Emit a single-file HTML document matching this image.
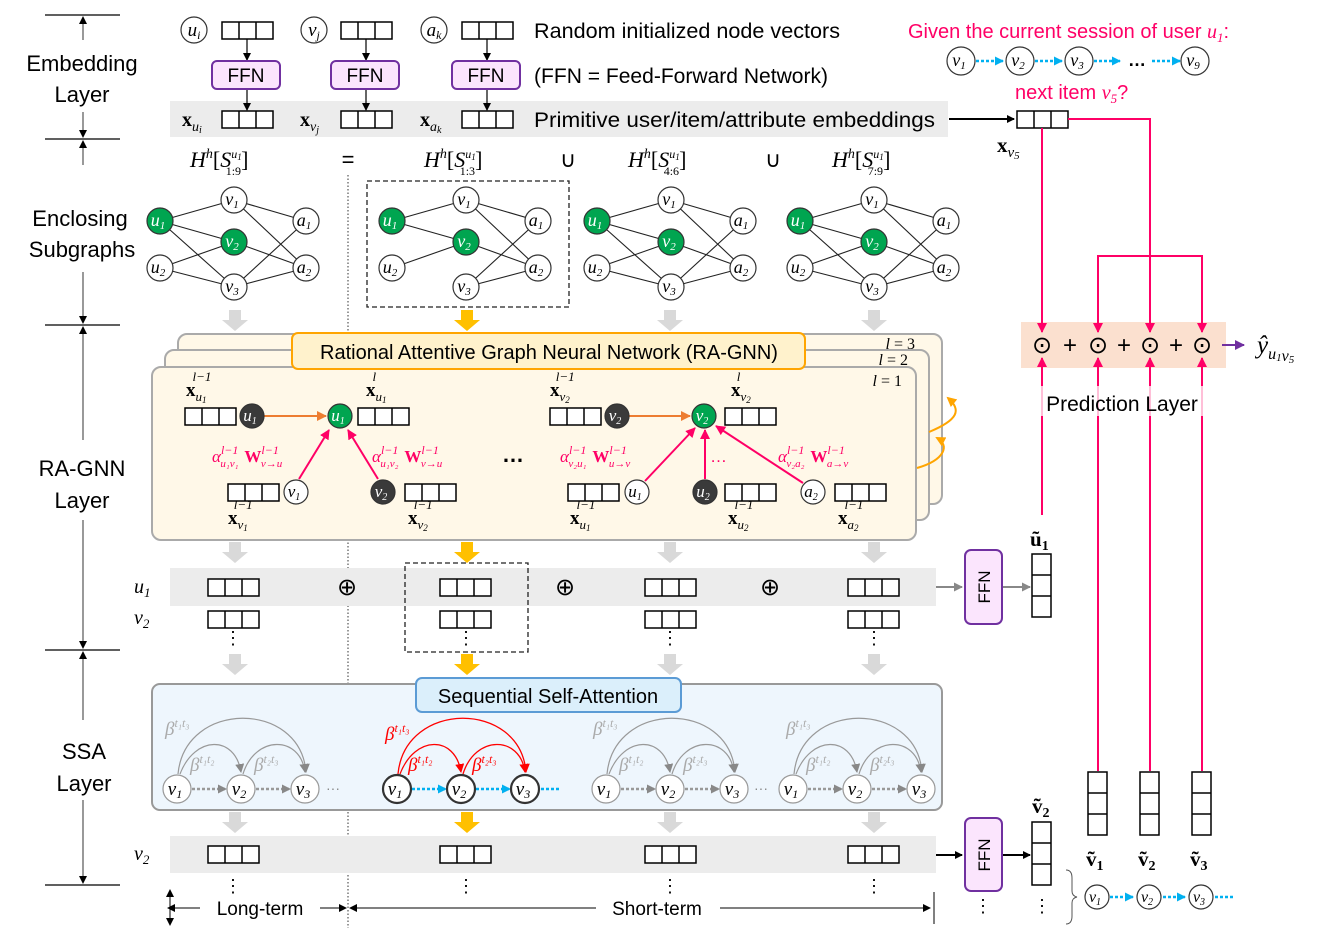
<!DOCTYPE html>
<html><head><meta charset="utf-8"><style>
html,body{margin:0;padding:0;background:#fff}
svg{display:block}
text{font-family:"Liberation Sans",sans-serif}
.m{font-family:"Liberation Serif",serif;font-style:italic}
.b{font-family:"Liberation Serif",serif;font-weight:bold}
</style></head><body>
<svg width="1342" height="937" viewBox="0 0 1342 937" xmlns="http://www.w3.org/2000/svg">
<defs>
<marker id="ak" markerWidth="8" markerHeight="8" refX="7" refY="4" orient="auto" markerUnits="userSpaceOnUse"><path d="M0,0L8,4L0,8z" fill="#000"/></marker>
<marker id="ap" markerWidth="10" markerHeight="10" refX="9" refY="5" orient="auto" markerUnits="userSpaceOnUse"><path d="M0,0L10,5L0,10z" fill="#ff0066"/></marker>
<marker id="ao" markerWidth="10" markerHeight="10" refX="9" refY="5" orient="auto" markerUnits="userSpaceOnUse"><path d="M0,0L10,5L0,10z" fill="#ed7d31"/></marker>
<marker id="ag" markerWidth="9" markerHeight="9" refX="8" refY="4.5" orient="auto" markerUnits="userSpaceOnUse"><path d="M0,0L9,4.5L0,9z" fill="#888"/></marker>
<marker id="ar" markerWidth="9" markerHeight="9" refX="8" refY="4.5" orient="auto" markerUnits="userSpaceOnUse"><path d="M0,0L9,4.5L0,9z" fill="#f00"/></marker>
<marker id="ac" markerWidth="9" markerHeight="9" refX="8" refY="4.5" orient="auto" markerUnits="userSpaceOnUse"><path d="M0,0L9,4.5L0,9z" fill="#00b0f0"/></marker>
<marker id="ay" markerWidth="10" markerHeight="10" refX="8" refY="5" orient="auto" markerUnits="userSpaceOnUse"><path d="M0,0L10,5L0,10z" fill="#ffa500"/></marker>
<marker id="av" markerWidth="10" markerHeight="10" refX="9" refY="5" orient="auto" markerUnits="userSpaceOnUse"><path d="M0,0L10,5L0,10z" fill="#7030a0"/></marker>
<g id="bx"><rect x="0" y="0" width="51" height="17" fill="#fff" stroke="#000" stroke-width="1.5"/><line x1="17" y1="0" x2="17" y2="17" stroke="#000" stroke-width="1.5"/><line x1="34" y1="0" x2="34" y2="17" stroke="#000" stroke-width="1.5"/></g>
<g id="vb"><rect x="0" y="0" width="19" height="63" fill="#fff" stroke="#000" stroke-width="1.5"/><line x1="0" y1="21" x2="19" y2="21" stroke="#000" stroke-width="1.5"/><line x1="0" y1="42" x2="19" y2="42" stroke="#000" stroke-width="1.5"/></g>
<path id="gd" d="M-6,0h12v10h7l-13,11l-13,-11h7z"/>
<g id="edges" stroke="#222" stroke-width="1.1">
<line x1="0" y1="0" x2="74" y2="-21"/><line x1="0" y1="0" x2="74" y2="21"/><line x1="0" y1="0" x2="74" y2="66"/>
<line x1="0" y1="47" x2="74" y2="21"/><line x1="0" y1="47" x2="74" y2="66"/>
<line x1="74" y1="-21" x2="146" y2="0"/><line x1="74" y1="-21" x2="146" y2="47"/><line x1="74" y1="21" x2="146" y2="47"/><line x1="74" y1="66" x2="146" y2="0"/><line x1="74" y1="66" x2="146" y2="47"/>
</g>
</defs>

<!-- left axis -->
<g stroke="#000" stroke-width="1.3">
<line x1="45" y1="15" x2="120" y2="15"/><line x1="45" y1="139" x2="120" y2="139"/><line x1="45" y1="325" x2="120" y2="325"/><line x1="45" y1="650" x2="120" y2="650"/><line x1="45" y1="885" x2="120" y2="885"/>
</g>
<g stroke="#000" stroke-width="0.8" fill="none">
<line x1="83" y1="40" x2="83" y2="17" marker-end="url(#ak)"/><line x1="83" y1="112" x2="83" y2="137" marker-end="url(#ak)"/>
<line x1="83" y1="165" x2="83" y2="141" marker-end="url(#ak)"/><line x1="83" y1="272" x2="83" y2="323" marker-end="url(#ak)"/>
<line x1="83" y1="440" x2="83" y2="327" marker-end="url(#ak)"/><line x1="83" y1="520" x2="83" y2="648" marker-end="url(#ak)"/>
<line x1="83" y1="720" x2="83" y2="652" marker-end="url(#ak)"/><line x1="83" y1="800" x2="83" y2="883" marker-end="url(#ak)"/>
</g>
<g font-size="22" text-anchor="middle" fill="#000">
<text x="82" y="71">Embedding</text><text x="82" y="102">Layer</text>
<text x="80" y="226">Enclosing</text><text x="82" y="257">Subgraphs</text>
<text x="82" y="476">RA-GNN</text><text x="82" y="508">Layer</text>
<text x="84" y="759">SSA</text><text x="84" y="791">Layer</text>
</g>

<!-- embedding layer -->
<rect x="170" y="101" width="778" height="36" fill="#ececec"/>
<g fill="#fff" stroke="#333" stroke-width="1.2"><circle cx="194" cy="30" r="13"/><circle cx="314" cy="30" r="13"/><circle cx="434" cy="30" r="13"/></g>
<g font-size="19" class="m" text-anchor="middle"><text x="194" y="36" class="m">u<tspan font-size="12" dy="3">i</tspan></text><text x="314" y="36" class="m">v<tspan font-size="12" dy="3">j</tspan></text><text x="434" y="36" class="m">a<tspan font-size="12" dy="3">k</tspan></text></g>
<use href="#bx" x="222" y="22"/><use href="#bx" x="341" y="22"/><use href="#bx" x="462" y="22"/>
<use href="#bx" x="222" y="111"/><use href="#bx" x="341" y="111"/><use href="#bx" x="462" y="111"/>
<g stroke="#000" stroke-width="1.2"><line x1="247" y1="39" x2="247" y2="60" marker-end="url(#ak)"/><line x1="366" y1="39" x2="366" y2="60" marker-end="url(#ak)"/><line x1="487" y1="39" x2="487" y2="60" marker-end="url(#ak)"/>
<line x1="247" y1="89" x2="247" y2="110" marker-end="url(#ak)"/><line x1="366" y1="89" x2="366" y2="110" marker-end="url(#ak)"/><line x1="487" y1="89" x2="487" y2="110" marker-end="url(#ak)"/></g>
<g fill="#fbe5fd" stroke="#7030a0" stroke-width="2"><rect x="212" y="61" width="68" height="28" rx="5"/><rect x="331" y="61" width="68" height="28" rx="5"/><rect x="452" y="61" width="68" height="28" rx="5"/></g>
<g font-size="19" text-anchor="middle"><text x="246" y="82">FFN</text><text x="365" y="82">FFN</text><text x="486" y="82">FFN</text></g>
<g font-size="20"><text x="182" y="126" class="b">x<tspan class="m" font-weight="normal" font-size="14" dy="5">u<tspan font-size="10" dy="2">i</tspan></tspan></text>
<text x="300" y="126" class="b">x<tspan class="m" font-weight="normal" font-size="14" dy="5">v<tspan font-size="10" dy="2">j</tspan></tspan></text>
<text x="420" y="126" class="b">x<tspan class="m" font-weight="normal" font-size="14" dy="5">a<tspan font-size="10" dy="2">k</tspan></tspan></text></g>
<g font-size="21"><text x="534" y="38" textLength="306" lengthAdjust="spacingAndGlyphs">Random initialized node vectors</text><text x="534" y="83" textLength="294" lengthAdjust="spacingAndGlyphs">(FFN = Feed-Forward Network)</text><text x="534" y="127" textLength="401" lengthAdjust="spacingAndGlyphs">Primitive user/item/attribute embeddings</text></g>

<!-- H^h row -->
<g font-size="22" class="m">
<text x="190" y="167" class="m">H<tspan font-size="14" dy="-9">h</tspan><tspan dy="9" font-style="normal">[</tspan>S<tspan font-size="12" dy="-9">u<tspan font-size="9" dy="2">1</tspan></tspan><tspan font-size="12" dx="-16" dy="15" font-style="normal">1:9</tspan><tspan dy="-8" font-style="normal">]</tspan></text>
<text x="424" y="167" class="m">H<tspan font-size="14" dy="-9">h</tspan><tspan dy="9" font-style="normal">[</tspan>S<tspan font-size="12" dy="-9">u<tspan font-size="9" dy="2">1</tspan></tspan><tspan font-size="12" dx="-16" dy="15" font-style="normal">1:3</tspan><tspan dy="-8" font-style="normal">]</tspan></text>
<text x="628" y="167" class="m">H<tspan font-size="14" dy="-9">h</tspan><tspan dy="9" font-style="normal">[</tspan>S<tspan font-size="12" dy="-9">u<tspan font-size="9" dy="2">1</tspan></tspan><tspan font-size="12" dx="-16" dy="15" font-style="normal">4:6</tspan><tspan dy="-8" font-style="normal">]</tspan></text>
<text x="832" y="167" class="m">H<tspan font-size="14" dy="-9">h</tspan><tspan dy="9" font-style="normal">[</tspan>S<tspan font-size="12" dy="-9">u<tspan font-size="9" dy="2">1</tspan></tspan><tspan font-size="12" dx="-16" dy="15" font-style="normal">7:9</tspan><tspan dy="-8" font-style="normal">]</tspan></text>
</g>
<g font-size="22" text-anchor="middle"><text x="348" y="167">=</text><text x="568" y="167">∪</text><text x="773" y="167">∪</text></g>

<!-- dotted vertical separator -->
<line x1="348" y1="175" x2="348" y2="928" stroke="#333" stroke-width="1" stroke-dasharray="1.5,2"/>

<!-- subgraphs -->
<rect x="367" y="181" width="202" height="126" fill="none" stroke="#222" stroke-width="1.3" stroke-dasharray="5,3"/>
<g transform="translate(160,221)"><use href="#edges"/></g>
<g transform="translate(392,221)">
<g stroke="#222" stroke-width="1.1"><line x1="0" y1="0" x2="74" y2="-21"/><line x1="0" y1="0" x2="74" y2="21"/><line x1="0" y1="47" x2="74" y2="21"/><line x1="74" y1="-21" x2="146" y2="0"/><line x1="74" y1="-21" x2="146" y2="47"/><line x1="74" y1="21" x2="146" y2="47"/><line x1="74" y1="66" x2="146" y2="0"/><line x1="74" y1="66" x2="146" y2="47"/></g></g>
<g transform="translate(597,221)"><use href="#edges"/></g>
<g transform="translate(800,221)"><use href="#edges"/></g>
<g stroke="#333" stroke-width="1.2">
<g fill="#00a550"><circle cx="160" cy="221" r="13"/><circle cx="234" cy="242" r="13"/><circle cx="392" cy="221" r="13"/><circle cx="466" cy="242" r="13"/><circle cx="597" cy="221" r="13"/><circle cx="671" cy="242" r="13"/><circle cx="800" cy="221" r="13"/><circle cx="874" cy="242" r="13"/></g>
<g fill="#fff"><circle cx="160" cy="268" r="13"/><circle cx="234" cy="200" r="13"/><circle cx="234" cy="287" r="13"/><circle cx="306" cy="221" r="13"/><circle cx="306" cy="268" r="13"/>
<circle cx="392" cy="268" r="13"/><circle cx="466" cy="200" r="13"/><circle cx="466" cy="287" r="13"/><circle cx="538" cy="221" r="13"/><circle cx="538" cy="268" r="13"/>
<circle cx="597" cy="268" r="13"/><circle cx="671" cy="200" r="13"/><circle cx="671" cy="287" r="13"/><circle cx="743" cy="221" r="13"/><circle cx="743" cy="268" r="13"/>
<circle cx="800" cy="268" r="13"/><circle cx="874" cy="200" r="13"/><circle cx="874" cy="287" r="13"/><circle cx="946" cy="221" r="13"/><circle cx="946" cy="268" r="13"/></g></g>
<g class="m" font-size="18" text-anchor="middle">
<g fill="#fff"><text x="158" y="226" class="m">u<tspan font-size="11" dy="3">1</tspan></text><text x="232" y="247" class="m">v<tspan font-size="11" dy="3">2</tspan></text><text x="390" y="226" class="m">u<tspan font-size="11" dy="3">1</tspan></text><text x="464" y="247" class="m">v<tspan font-size="11" dy="3">2</tspan></text><text x="595" y="226" class="m">u<tspan font-size="11" dy="3">1</tspan></text><text x="669" y="247" class="m">v<tspan font-size="11" dy="3">2</tspan></text><text x="798" y="226" class="m">u<tspan font-size="11" dy="3">1</tspan></text><text x="872" y="247" class="m">v<tspan font-size="11" dy="3">2</tspan></text></g>
<text x="158" y="273" class="m">u<tspan font-size="11" dy="3">2</tspan></text><text x="232" y="205" class="m">v<tspan font-size="11" dy="3">1</tspan></text><text x="232" y="292" class="m">v<tspan font-size="11" dy="3">3</tspan></text><text x="304" y="226" class="m">a<tspan font-size="11" dy="3">1</tspan></text><text x="304" y="273" class="m">a<tspan font-size="11" dy="3">2</tspan></text>
<text x="390" y="273" class="m">u<tspan font-size="11" dy="3">2</tspan></text><text x="464" y="205" class="m">v<tspan font-size="11" dy="3">1</tspan></text><text x="464" y="292" class="m">v<tspan font-size="11" dy="3">3</tspan></text><text x="536" y="226" class="m">a<tspan font-size="11" dy="3">1</tspan></text><text x="536" y="273" class="m">a<tspan font-size="11" dy="3">2</tspan></text>
<text x="595" y="273" class="m">u<tspan font-size="11" dy="3">2</tspan></text><text x="669" y="205" class="m">v<tspan font-size="11" dy="3">1</tspan></text><text x="669" y="292" class="m">v<tspan font-size="11" dy="3">3</tspan></text><text x="741" y="226" class="m">a<tspan font-size="11" dy="3">1</tspan></text><text x="741" y="273" class="m">a<tspan font-size="11" dy="3">2</tspan></text>
<text x="798" y="273" class="m">u<tspan font-size="11" dy="3">2</tspan></text><text x="872" y="205" class="m">v<tspan font-size="11" dy="3">1</tspan></text><text x="872" y="292" class="m">v<tspan font-size="11" dy="3">3</tspan></text><text x="944" y="226" class="m">a<tspan font-size="11" dy="3">1</tspan></text><text x="944" y="273" class="m">a<tspan font-size="11" dy="3">2</tspan></text>
</g>

<!-- block arrows -->
<g fill="#d9d9d9">
<use href="#gd" x="235" y="310"/><use href="#gd" x="670" y="310"/><use href="#gd" x="874" y="310"/>
<use href="#gd" x="235" y="542"/><use href="#gd" x="670" y="542"/><use href="#gd" x="874" y="542"/>
<use href="#gd" x="235" y="654"/><use href="#gd" x="670" y="654"/><use href="#gd" x="874" y="654"/>
<use href="#gd" x="235" y="812"/><use href="#gd" x="670" y="812"/><use href="#gd" x="874" y="812"/>
</g>
<g fill="#ffc000"><use href="#gd" x="467" y="310"/><use href="#gd" x="467" y="542"/><use href="#gd" x="467" y="654"/><use href="#gd" x="467" y="812"/></g>

<!-- RA-GNN stacked panels -->
<rect x="178" y="334" width="764" height="170" rx="9" fill="#fff8e8" stroke="#aaa" stroke-width="2"/>
<rect x="165" y="350" width="764" height="170" rx="9" fill="#fff8e8" stroke="#aaa" stroke-width="2"/>
<rect x="152" y="367" width="764" height="173" rx="9" fill="#fff8e8" stroke="#aaa" stroke-width="2"/>
<rect x="292" y="333" width="513" height="36" rx="6" fill="#fff2cc" stroke="#ffa500" stroke-width="2"/>
<text x="549" y="359" font-size="20" text-anchor="middle">Rational Attentive Graph Neural Network (RA-GNN)</text>
<g class="m" font-size="16" text-anchor="end"><text x="915" y="349" class="m">l <tspan font-style="normal">= 3</tspan></text><text x="908" y="365" class="m">l <tspan font-style="normal">= 2</tspan></text><text x="902" y="386" class="m">l <tspan font-style="normal">= 1</tspan></text></g>
<g fill="none" stroke="#ffa500" stroke-width="2"><path d="M917,468 C945,460 950,445 937,438" marker-end="url(#ay)"/><path d="M929,432 C958,420 962,410 948,398" marker-end="url(#ay)"/></g>

<!-- RA-GNN inner content -->
<use href="#bx" x="185" y="408"/><use href="#bx" x="358" y="408"/><use href="#bx" x="228" y="484"/><use href="#bx" x="405" y="484"/>
<use href="#bx" x="550" y="408"/><use href="#bx" x="725" y="408"/><use href="#bx" x="568" y="484"/><use href="#bx" x="725" y="484"/><use href="#bx" x="835" y="484"/>
<g stroke-width="2" fill="none">
<line x1="264" y1="416" x2="326" y2="416" stroke="#ed7d31" marker-end="url(#ao)"/>
<line x1="629" y1="416" x2="690" y2="416" stroke="#ed7d31" marker-end="url(#ao)"/>
<g stroke="#ff0066"><line x1="299" y1="479" x2="329" y2="430" marker-end="url(#ap)"/><line x1="378" y1="479" x2="348" y2="430" marker-end="url(#ap)"/>
<line x1="645" y1="481" x2="695" y2="428" marker-end="url(#ap)"/><line x1="705" y1="479" x2="705" y2="430" marker-end="url(#ap)"/><line x1="803" y1="483" x2="716" y2="426" marker-end="url(#ap)"/></g>
</g>
<g stroke="#333" stroke-width="1.2">
<g fill="#3a3a3a"><circle cx="252" cy="416" r="12"/><circle cx="383" cy="492" r="12"/><circle cx="617" cy="416" r="12"/><circle cx="705" cy="492" r="12"/></g>
<g fill="#00a550"><circle cx="340" cy="416" r="12"/><circle cx="704" cy="416" r="12"/></g>
<g fill="#fff"><circle cx="296" cy="492" r="12"/><circle cx="637" cy="492" r="12"/><circle cx="813" cy="492" r="12"/></g></g>
<g class="m" font-size="17" text-anchor="middle">
<g fill="#fff"><text x="250" y="421" class="m">u<tspan font-size="10" dy="3">1</tspan></text><text x="338" y="421" class="m">u<tspan font-size="10" dy="3">1</tspan></text><text x="381" y="497" class="m">v<tspan font-size="10" dy="3">2</tspan></text><text x="615" y="421" class="m">v<tspan font-size="10" dy="3">2</tspan></text><text x="702" y="421" class="m">v<tspan font-size="10" dy="3">2</tspan></text><text x="703" y="497" class="m">u<tspan font-size="10" dy="3">2</tspan></text></g>
<text x="294" y="497" class="m">v<tspan font-size="10" dy="3">1</tspan></text><text x="635" y="497" class="m">u<tspan font-size="10" dy="3">1</tspan></text><text x="811" y="497" class="m">a<tspan font-size="10" dy="3">2</tspan></text>
</g>
<g font-size="19">
<text x="186" y="396" class="b">x<tspan class="m" font-weight="normal" font-size="13" dy="5">u<tspan font-size="9" dy="2">1</tspan></tspan><tspan class="m" font-weight="normal" font-size="13" dx="-14" dy="-22">l−1</tspan></text>
<text x="366" y="396" class="b">x<tspan class="m" font-weight="normal" font-size="13" dy="5">u<tspan font-size="9" dy="2">1</tspan></tspan><tspan class="m" font-weight="normal" font-size="13" dx="-14" dy="-22">l</tspan></text>
<text x="550" y="396" class="b">x<tspan class="m" font-weight="normal" font-size="13" dy="5">v<tspan font-size="9" dy="2">2</tspan></tspan><tspan class="m" font-weight="normal" font-size="13" dx="-14" dy="-22">l−1</tspan></text>
<text x="731" y="396" class="b">x<tspan class="m" font-weight="normal" font-size="13" dy="5">v<tspan font-size="9" dy="2">2</tspan></tspan><tspan class="m" font-weight="normal" font-size="13" dx="-14" dy="-22">l</tspan></text>
<text x="228" y="524" class="b">x<tspan class="m" font-weight="normal" font-size="13" dy="5">v<tspan font-size="9" dy="2">1</tspan></tspan><tspan class="m" font-weight="normal" font-size="13" dx="-14" dy="-22">l−1</tspan></text>
<text x="408" y="524" class="b">x<tspan class="m" font-weight="normal" font-size="13" dy="5">v<tspan font-size="9" dy="2">2</tspan></tspan><tspan class="m" font-weight="normal" font-size="13" dx="-14" dy="-22">l−1</tspan></text>
<text x="570" y="524" class="b">x<tspan class="m" font-weight="normal" font-size="13" dy="5">u<tspan font-size="9" dy="2">1</tspan></tspan><tspan class="m" font-weight="normal" font-size="13" dx="-14" dy="-22">l−1</tspan></text>
<text x="728" y="524" class="b">x<tspan class="m" font-weight="normal" font-size="13" dy="5">u<tspan font-size="9" dy="2">2</tspan></tspan><tspan class="m" font-weight="normal" font-size="13" dx="-14" dy="-22">l−1</tspan></text>
<text x="838" y="524" class="b">x<tspan class="m" font-weight="normal" font-size="13" dy="5">a<tspan font-size="9" dy="2">2</tspan></tspan><tspan class="m" font-weight="normal" font-size="13" dx="-14" dy="-22">l−1</tspan></text>
</g>
<g fill="#ff0066" font-size="17">
<text x="212" y="462" class="m">α<tspan font-size="12" dy="-8">l−1</tspan><tspan font-size="11" dx="-18" dy="13">u₁v₁</tspan><tspan class="b" font-style="normal" font-size="17" dx="6" dy="-5">W</tspan><tspan font-size="12" dy="-8">l−1</tspan><tspan font-size="11" dx="-18" dy="13">v→u</tspan></text>
<text x="372" y="462" class="m">α<tspan font-size="12" dy="-8">l−1</tspan><tspan font-size="11" dx="-18" dy="13">u₁v₂</tspan><tspan class="b" font-style="normal" font-size="17" dx="6" dy="-5">W</tspan><tspan font-size="12" dy="-8">l−1</tspan><tspan font-size="11" dx="-18" dy="13">v→u</tspan></text>
<text x="560" y="462" class="m">α<tspan font-size="12" dy="-8">l−1</tspan><tspan font-size="11" dx="-18" dy="13">v₂u₁</tspan><tspan class="b" font-style="normal" font-size="17" dx="6" dy="-5">W</tspan><tspan font-size="12" dy="-8">l−1</tspan><tspan font-size="11" dx="-18" dy="13">u→v</tspan></text>
<text x="778" y="462" class="m">α<tspan font-size="12" dy="-8">l−1</tspan><tspan font-size="11" dx="-18" dy="13">v₂a₂</tspan><tspan class="b" font-style="normal" font-size="17" dx="6" dy="-5">W</tspan><tspan font-size="12" dy="-8">l−1</tspan><tspan font-size="11" dx="-18" dy="13">a→v</tspan></text>
<text x="710" y="462">…</text>
</g>
<text x="513" y="462" font-size="22" font-weight="bold" text-anchor="middle">…</text>

<!-- aggregation rows -->
<rect x="170" y="568" width="766" height="38" fill="#ececec"/>
<rect x="405" y="563" width="123" height="89" fill="none" stroke="#222" stroke-width="1.3" stroke-dasharray="5,3"/>
<use href="#bx" x="208" y="579"/><use href="#bx" x="440" y="579"/><use href="#bx" x="645" y="579"/><use href="#bx" x="848" y="579"/>
<use href="#bx" x="208" y="611"/><use href="#bx" x="440" y="611"/><use href="#bx" x="645" y="611"/><use href="#bx" x="848" y="611"/>
<g font-size="18" text-anchor="middle"><text x="233" y="644">⋮</text><text x="466" y="644">⋮</text><text x="670" y="644">⋮</text><text x="874" y="644">⋮</text>
<text x="233" y="892">⋮</text><text x="466" y="892">⋮</text><text x="670" y="892">⋮</text><text x="874" y="892">⋮</text>
<text x="983" y="912">⋮</text><text x="1042" y="912">⋮</text></g>
<g font-size="24" text-anchor="middle"><text x="347" y="595">⊕</text><text x="565" y="595">⊕</text><text x="770" y="595">⊕</text>
<text x="347" y="862">⊕</text><text x="565" y="862">⊕</text><text x="770" y="862">⊕</text></g>
<g class="m" font-size="20"><text x="134" y="593" class="m">u<tspan font-size="13" dy="4">1</tspan></text><text x="134" y="624" class="m">v<tspan font-size="13" dy="4">2</tspan></text><text x="134" y="860" class="m">v<tspan font-size="13" dy="4">2</tspan></text></g>

<!-- SSA panel -->
<rect x="152" y="684" width="790" height="126" rx="8" fill="#eef6fd" stroke="#999" stroke-width="2"/>
<rect x="416" y="678" width="265" height="34" rx="6" fill="#dbeffb" stroke="#5b9bd5" stroke-width="2"/>
<text x="548" y="703" font-size="20" text-anchor="middle">Sequential Self-Attention</text>
<g fill="none" stroke="#999" stroke-width="1.2">
<path d="M178,774 C185,700 300,700 306,772" marker-end="url(#ag)"/><path d="M180,774 C195,735 235,735 241,772" marker-end="url(#ag)"/><path d="M243,774 C255,735 300,735 305,772" marker-end="url(#ag)"/>
<path d="M607,774 C614,700 729,700 735,772" marker-end="url(#ag)"/><path d="M609,774 C624,735 664,735 670,772" marker-end="url(#ag)"/><path d="M672,774 C684,735 729,735 734,772" marker-end="url(#ag)"/>
<path d="M794,774 C801,700 916,700 922,772" marker-end="url(#ag)"/><path d="M796,774 C811,735 851,735 857,772" marker-end="url(#ag)"/><path d="M859,774 C871,735 916,735 921,772" marker-end="url(#ag)"/>
<g stroke-dasharray="3,2" stroke-width="2.5"><line x1="192" y1="789" x2="226" y2="789" marker-end="url(#ag)"/><line x1="256" y1="789" x2="290" y2="789" marker-end="url(#ag)"/><line x1="621" y1="789" x2="655" y2="789" marker-end="url(#ag)"/><line x1="685" y1="789" x2="719" y2="789" marker-end="url(#ag)"/><line x1="808" y1="789" x2="842" y2="789" marker-end="url(#ag)"/><line x1="872" y1="789" x2="906" y2="789" marker-end="url(#ag)"/></g>
</g>
<g fill="none" stroke="#f00" stroke-width="1.3">
<path d="M398,774 C405,700 520,700 526,772" marker-end="url(#ar)"/><path d="M400,774 C415,735 455,735 461,772" marker-end="url(#ar)"/><path d="M463,774 C475,735 520,735 525,772" marker-end="url(#ar)"/></g>
<g stroke="#00b0f0" stroke-width="2.5" stroke-dasharray="3,2" fill="none"><line x1="412" y1="789" x2="446" y2="789" marker-end="url(#ac)"/><line x1="476" y1="789" x2="510" y2="789" marker-end="url(#ac)"/><line x1="541" y1="789" x2="560" y2="789"/></g>
<g fill="#fff" stroke="#999" stroke-width="1.2"><circle cx="177" cy="789" r="14"/><circle cx="241" cy="789" r="14"/><circle cx="305" cy="789" r="14"/><circle cx="606" cy="789" r="14"/><circle cx="670" cy="789" r="14"/><circle cx="734" cy="789" r="14"/><circle cx="793" cy="789" r="14"/><circle cx="857" cy="789" r="14"/><circle cx="921" cy="789" r="14"/></g>
<g fill="#fff" stroke="#333" stroke-width="2.2"><circle cx="397" cy="789" r="14"/><circle cx="461" cy="789" r="14"/><circle cx="525" cy="789" r="14"/></g>
<g class="m" font-size="19" text-anchor="middle">
<text x="175" y="795" class="m">v<tspan font-size="12" dy="3">1</tspan></text><text x="239" y="795" class="m">v<tspan font-size="12" dy="3">2</tspan></text><text x="303" y="795" class="m">v<tspan font-size="12" dy="3">3</tspan></text>
<text x="395" y="795" class="m">v<tspan font-size="12" dy="3">1</tspan></text><text x="459" y="795" class="m">v<tspan font-size="12" dy="3">2</tspan></text><text x="523" y="795" class="m">v<tspan font-size="12" dy="3">3</tspan></text>
<text x="604" y="795" class="m">v<tspan font-size="12" dy="3">1</tspan></text><text x="668" y="795" class="m">v<tspan font-size="12" dy="3">2</tspan></text><text x="732" y="795" class="m">v<tspan font-size="12" dy="3">3</tspan></text>
<text x="791" y="795" class="m">v<tspan font-size="12" dy="3">1</tspan></text><text x="855" y="795" class="m">v<tspan font-size="12" dy="3">2</tspan></text><text x="919" y="795" class="m">v<tspan font-size="12" dy="3">3</tspan></text>
</g>
<g font-size="14" fill="#888"><text x="326" y="793">···</text><text x="754" y="793">···</text></g>
<g class="m" font-size="19" fill="#aaa">
<text x="165" y="735" class="m">β<tspan font-size="12" dy="-8">t₁t₃</tspan></text><text x="190" y="771" class="m">β<tspan font-size="12" dy="-8">t₁t₂</tspan></text><text x="254" y="771" class="m">β<tspan font-size="12" dy="-8">t₂t₃</tspan></text>
<text x="593" y="735" class="m">β<tspan font-size="12" dy="-8">t₁t₃</tspan></text><text x="619" y="771" class="m">β<tspan font-size="12" dy="-8">t₁t₂</tspan></text><text x="683" y="771" class="m">β<tspan font-size="12" dy="-8">t₂t₃</tspan></text>
<text x="786" y="735" class="m">β<tspan font-size="12" dy="-8">t₁t₃</tspan></text><text x="806" y="771" class="m">β<tspan font-size="12" dy="-8">t₁t₂</tspan></text><text x="870" y="771" class="m">β<tspan font-size="12" dy="-8">t₂t₃</tspan></text>
</g>
<g class="m" font-size="19" fill="#f00">
<text x="385" y="740" class="m">β<tspan font-size="12" dy="-8">t₁t₃</tspan></text><text x="408" y="771" class="m">β<tspan font-size="12" dy="-8">t₁t₂</tspan></text><text x="472" y="771" class="m">β<tspan font-size="12" dy="-8">t₂t₃</tspan></text>
</g>

<!-- bottom band -->
<rect x="170" y="836" width="766" height="37" fill="#ececec"/>
<use href="#bx" x="208" y="846"/><use href="#bx" x="440" y="846"/><use href="#bx" x="645" y="846"/><use href="#bx" x="848" y="846"/>

<!-- long/short term -->
<g stroke="#000" stroke-width="1" fill="none">
<line x1="170" y1="890" x2="170" y2="925" marker-end="url(#ak)"/><line x1="170" y1="925" x2="170" y2="890" marker-end="url(#ak)"/>
<line x1="200" y1="908" x2="168" y2="908" marker-end="url(#ak)"/><line x1="320" y1="908" x2="346" y2="908" marker-end="url(#ak)"/>
<line x1="600" y1="908" x2="350" y2="908" marker-end="url(#ak)"/><line x1="720" y1="908" x2="930" y2="908" marker-end="url(#ak)"/>
<line x1="934" y1="892" x2="934" y2="924"/>
</g>
<rect x="202" y="898" width="116" height="20" fill="#fff"/><rect x="596" y="898" width="122" height="20" fill="#fff"/>
<g font-size="19" text-anchor="middle"><text x="260" y="915">Long-term</text><text x="657" y="915">Short-term</text></g>

<!-- FFN right -->
<g fill="#fbe5fd" stroke="#7030a0" stroke-width="2"><rect x="965" y="550" width="37" height="74" rx="6"/><rect x="965" y="818" width="37" height="73" rx="6"/></g>
<g font-size="17" text-anchor="middle"><text transform="translate(990,587) rotate(-90)">FFN</text><text transform="translate(990,855) rotate(-90)">FFN</text></g>
<g stroke="#888" stroke-width="2"><line x1="936" y1="587" x2="962" y2="587" marker-end="url(#ag)"/><line x1="1003" y1="587" x2="1030" y2="587" marker-end="url(#ag)"/></g>
<g stroke="#000" stroke-width="2"><line x1="936" y1="855" x2="962" y2="855" marker-end="url(#ak)"/><line x1="1003" y1="855" x2="1030" y2="855" marker-end="url(#ak)"/></g>
<use href="#vb" x="1032" y="554"/><use href="#vb" x="1032" y="822"/>
<use href="#vb" x="1088" y="772"/><use href="#vb" x="1140" y="772"/><use href="#vb" x="1192" y="772"/>
<g class="b" font-size="21"><text x="1030" y="546" class="b">ũ<tspan font-size="14" dy="4">1</tspan></text><text x="1032" y="813" class="b">ṽ<tspan font-size="14" dy="4">2</tspan></text>
<text x="1086" y="866" class="b">ṽ<tspan font-size="14" dy="4">1</tspan></text><text x="1138" y="866" class="b">ṽ<tspan font-size="14" dy="4">2</tspan></text><text x="1190" y="866" class="b">ṽ<tspan font-size="14" dy="4">3</tspan></text></g>
<path d="M1066,870 q6,0 6,8 v13 q0,5 5,6 q-5,1 -5,6 v13 q0,8 -6,8" fill="none" stroke="#555" stroke-width="1"/>
<g stroke="#00b0f0" stroke-width="2.5" stroke-dasharray="3,2"><line x1="1110" y1="897" x2="1133" y2="897" marker-end="url(#ac)"/><line x1="1163" y1="897" x2="1185" y2="897" marker-end="url(#ac)"/><line x1="1215" y1="897" x2="1235" y2="897"/></g>
<g fill="#fff" stroke="#333" stroke-width="1.2"><circle cx="1097" cy="897" r="12"/><circle cx="1149" cy="897" r="12"/><circle cx="1201" cy="897" r="12"/></g>
<g class="m" font-size="16" text-anchor="middle"><text x="1095" y="902" class="m">v<tspan font-size="10" dy="3">1</tspan></text><text x="1147" y="902" class="m">v<tspan font-size="10" dy="3">2</tspan></text><text x="1199" y="902" class="m">v<tspan font-size="10" dy="3">3</tspan></text></g>

<!-- top right session -->
<text x="908" y="38" font-size="20" fill="#ff0066">Given the current session of user <tspan class="m">u<tspan font-size="13" dy="4">1</tspan></tspan><tspan dy="-4">:</tspan></text>
<g stroke="#00b0f0" stroke-width="2.5" stroke-dasharray="3,2"><line x1="976" y1="61" x2="1003" y2="61" marker-end="url(#ac)"/><line x1="1035" y1="61" x2="1062" y2="61" marker-end="url(#ac)"/><line x1="1094" y1="61" x2="1120" y2="61" marker-end="url(#ac)"/><line x1="1152" y1="61" x2="1180" y2="61" marker-end="url(#ac)"/></g>
<text x="1128" y="66" font-size="18" font-weight="bold">…</text>
<g fill="#fff" stroke="#333" stroke-width="1.2"><circle cx="961" cy="61" r="14"/><circle cx="1020" cy="61" r="14"/><circle cx="1079" cy="61" r="14"/><circle cx="1195" cy="61" r="14"/></g>
<g class="m" font-size="18" text-anchor="middle"><text x="959" y="66" class="m">v<tspan font-size="11" dy="3">1</tspan></text><text x="1018" y="66" class="m">v<tspan font-size="11" dy="3">2</tspan></text><text x="1077" y="66" class="m">v<tspan font-size="11" dy="3">3</tspan></text><text x="1193" y="66" class="m">v<tspan font-size="11" dy="3">9</tspan></text></g>
<text x="1015" y="99" font-size="20" fill="#ff0066">next item <tspan class="m">v<tspan font-size="13" dy="4">5</tspan></tspan><tspan dy="-4">?</tspan></text>
<line x1="949" y1="119" x2="1014" y2="119" stroke="#000" stroke-width="2" marker-end="url(#ak)"/>
<use href="#bx" x="1017" y="111"/>
<text x="997" y="152" font-size="21" class="b">x<tspan class="m" font-weight="normal" font-size="15" dy="5">v<tspan font-size="11" dy="2">5</tspan></tspan></text>

<!-- prediction -->
<rect x="1021" y="322" width="205" height="46" fill="#fbe0cf"/>
<g stroke="#ff0066" stroke-width="2" fill="none">
<line x1="1042" y1="128" x2="1042" y2="332" marker-end="url(#ap)"/>
<polyline points="1068,119 1150,119 1150,332" marker-end="url(#ap)"/>
<polyline points="1098,332 1098,256 1202,256 1202,332" />
<line x1="1098" y1="260" x2="1098" y2="332" marker-end="url(#ap)"/><line x1="1202" y1="260" x2="1202" y2="332" marker-end="url(#ap)"/>
<line x1="1042" y1="515" x2="1042" y2="358" marker-end="url(#ap)"/>
<line x1="1098" y1="771" x2="1098" y2="358" marker-end="url(#ap)"/><line x1="1150" y1="771" x2="1150" y2="358" marker-end="url(#ap)"/><line x1="1202" y1="771" x2="1202" y2="358" marker-end="url(#ap)"/>
</g>
<rect x="1036" y="386" width="172" height="30" fill="#fff" opacity="0.75"/>
<text x="1122" y="411" font-size="21" text-anchor="middle">Prediction Layer</text>
<g font-size="24" text-anchor="middle"><text x="1042" y="353">⊙</text><text x="1098" y="353">⊙</text><text x="1150" y="353">⊙</text><text x="1202" y="353">⊙</text>
<text x="1070" y="353">+</text><text x="1124" y="353">+</text><text x="1176" y="353">+</text></g>
<line x1="1222" y1="345" x2="1244" y2="345" stroke="#7030a0" stroke-width="2" marker-end="url(#av)"/>
<text x="1257" y="353" class="m" font-size="25">ŷ<tspan font-size="16" dy="6">u<tspan font-size="11" dy="2">1</tspan>v<tspan font-size="11" dy="2">5</tspan></tspan></text>
</svg>
</body></html>
